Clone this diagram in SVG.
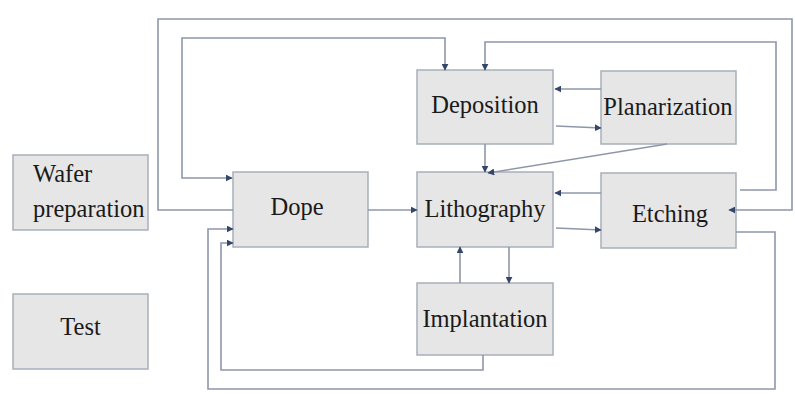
<svg xmlns="http://www.w3.org/2000/svg" width="795" height="394" viewBox="0 0 795 394">
<style>
.box{fill:#e6e6e6;stroke:#a9aebb;stroke-width:1.5}
.lbl{font-family:"Liberation Serif","Times New Roman",serif;font-size:24.5px;fill:#1a1a1a}
.c{fill:none;stroke:#8e97aa;stroke-width:1.6}
</style>
<defs>
<marker id="ah" viewBox="0 0 10 10" refX="9" refY="5" markerWidth="7" markerHeight="7" markerUnits="userSpaceOnUse" orient="auto-start-reverse">
<path d="M0,0 L10,5 L0,10 z" fill="#34476a"/>
</marker>
</defs>
<rect width="795" height="394" fill="#ffffff"/>
<g id="wafer"><rect class="box" x="13" y="155" width="135" height="75"/><text class="lbl" x="33" y="182">Wafer</text><text class="lbl" x="33" y="217">preparation</text></g>
<g id="test"><rect class="box" x="13" y="294" width="135" height="75"/><text class="lbl" x="80.5" y="335" text-anchor="middle">Test</text></g>
<g id="dope"><rect class="box" x="233" y="172" width="135" height="75"/><text class="lbl" x="297" y="215" text-anchor="middle">Dope</text></g>
<g id="lithography"><rect class="box" x="417" y="172" width="136" height="75"/><text class="lbl" x="485" y="217" text-anchor="middle">Lithography</text></g>
<g id="deposition"><rect class="box" x="417" y="70" width="136" height="74"/><text class="lbl" x="485" y="113" text-anchor="middle">Deposition</text></g>
<g id="planarization"><rect class="box" x="601" y="71" width="135" height="73"/><text class="lbl" x="668" y="115" text-anchor="middle">Planarization</text></g>
<g id="etching"><rect class="box" x="601" y="173" width="135" height="75"/><text class="lbl" x="670" y="222" text-anchor="middle">Etching</text></g>
<g id="implantation"><rect class="box" x="417" y="283" width="136" height="72"/><text class="lbl" x="485" y="327" text-anchor="middle">Implantation</text></g>
<g id="connectors">
<path class="c" d="M233,210 H158 V19 H792 V210 H729" marker-end="url(#ah)"/>
<path class="c" d="M445,70 V38 H182 V178 H232" marker-start="url(#ah)" marker-end="url(#ah)"/>
<path class="c" d="M740,190 H776 V42 H485 V70" marker-end="url(#ah)"/>
<path class="c" d="M601,89 H555" marker-end="url(#ah)"/>
<path class="c" d="M556,126 L601,128" marker-end="url(#ah)"/>
<path class="c" d="M485,144 V172" marker-end="url(#ah)"/>
<path class="c" d="M667,144 L488,173" marker-end="url(#ah)"/>
<path class="c" d="M601,193 H555" marker-end="url(#ah)"/>
<path class="c" d="M556,228 L601,230" marker-end="url(#ah)"/>
<path class="c" d="M460,283 V247" marker-end="url(#ah)"/>
<path class="c" d="M509,247 V283" marker-end="url(#ah)"/>
<path class="c" d="M368,210 H417" marker-end="url(#ah)"/>
<path class="c" d="M483,355 V370 H221 V243 H233" marker-end="url(#ah)"/>
<path class="c" d="M736,232 H775 V389 H208 V229 H233" marker-end="url(#ah)"/>
</g>
</svg>
